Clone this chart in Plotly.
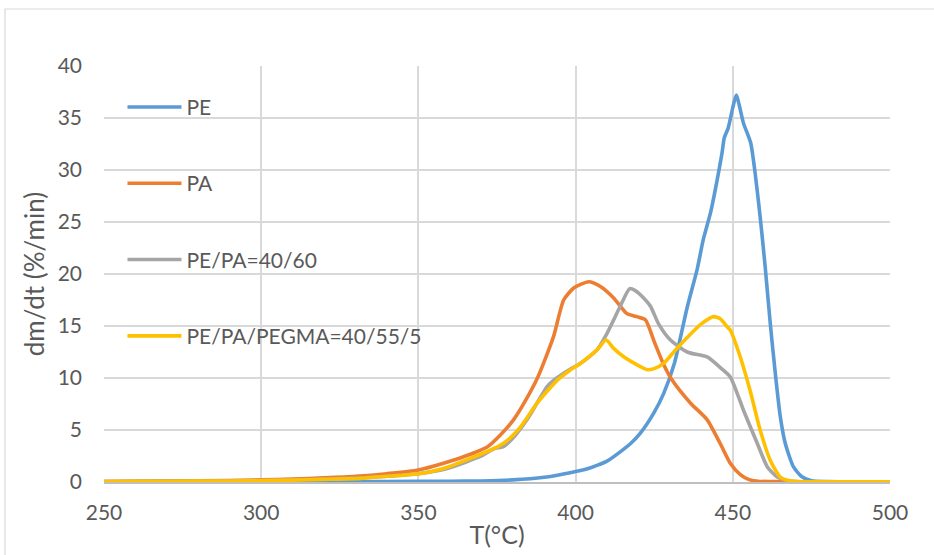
import plotly.graph_objects as go

# ---- data ----
pe_T = [250, 280, 310, 340, 360, 370, 380, 390, 395, 400, 405, 410, 414.2, 417.5, 420.6, 424.8, 428,
        431.5, 435.5, 438.7, 440.6, 443, 445, 446.5, 447.3, 448.5, 450, 451.1, 453.4, 455.7, 457.1,
        458.7, 460.3, 461.9, 463.5, 465.1, 466.7, 469.3, 472, 475, 480, 500]
pe_v = [0.02, 0.03, 0.04, 0.05, 0.07, 0.1, 0.2, 0.45, 0.7, 1.0, 1.4, 2.0, 2.9, 3.7, 4.7, 6.6, 8.5,
        11.5, 16.8, 20.5, 23.3, 26.0, 29.0, 31.5, 33.1, 34.0, 36.0, 37.2, 34.5, 32.6, 29.7,
        25.5, 20.7, 15.3, 10.5, 6.3, 3.7, 1.45, 0.5, 0.12, 0.04, 0.02]

pa_T = [250, 270, 290, 300, 310, 320, 330, 340, 350, 358, 365, 372, 376, 380.3, 384, 388, 393,
        396.2, 399.4, 404.2, 407.9, 412.1, 416.3, 419.5, 422.2, 425, 428, 430.7, 436.5, 441.8,
        446, 449.2, 452.4, 455, 458, 465, 500]
pa_v = [0.05, 0.08, 0.15, 0.2, 0.28, 0.4, 0.55, 0.8, 1.15, 1.8, 2.5, 3.4, 4.5, 6.0, 7.8, 10.1, 14.0,
        17.5, 18.65, 19.26, 18.8, 17.7, 16.2, 15.9, 15.6, 13.5, 11.3, 9.8, 7.6, 6.0,
        3.7, 1.8, 0.7, 0.25, 0.08, 0.03, 0.02]

blend_T = [250, 270, 290, 300, 310, 320, 330, 340, 350, 358, 365, 370, 374, 377, 380, 385, 391,
           394, 398, 401.5, 406.8, 410, 414.2, 417.2, 419, 420.6, 423.8, 426.4, 430, 435.5, 442,
           446, 449.2, 453.4, 457.8, 461, 464, 467, 470, 480, 500]
blend_v = [0.05, 0.08, 0.12, 0.15, 0.2, 0.28, 0.38, 0.55, 0.8, 1.2, 1.9, 2.5, 3.2, 3.4, 4.2, 6.2, 9.2,
           10.0, 10.8, 11.4, 12.7, 14.3, 16.9, 18.6, 18.4, 18.0, 16.9, 15.2, 13.7, 12.5, 12.0,
           11.0, 10.1, 6.9, 3.7, 1.45, 0.5, 0.15, 0.05, 0.02, 0.02]

comp_T = [250, 270, 290, 300, 310, 320, 331.6, 340, 350.2, 358, 367.6, 374, 378.3, 382.5, 387.8,
          394.2, 398, 401.5, 406.8, 409.7, 412.1, 415.3, 420.6, 422.7, 425, 428, 431.5, 435.5,
          440, 443.8, 446, 448, 449.2, 452.4, 455.5, 458.7, 461.9, 465, 468, 472, 500]
comp_v = [0.05, 0.07, 0.1, 0.13, 0.18, 0.25, 0.35, 0.55, 0.8, 1.3, 2.4, 3.2, 4.0, 5.3, 7.6,
          9.8, 10.7, 11.4, 12.7, 13.65, 12.85, 12.05, 11.1, 10.8, 10.9, 11.4, 12.6, 13.9,
          15.2, 15.9, 15.7, 15.0, 14.6, 12.0, 8.8, 5.0, 2.1, 0.5, 0.12, 0.03, 0.02]

names = ["PE", "PA", "PE/PA=40/60", "PE/PA/PEGMA=40/55/5"]
colors = ["#5B9BD5", "#ED7D31", "#A5A5A5", "#FFC000"]
series = [(pe_T, pe_v), (pa_T, pa_v), (blend_T, blend_v), (comp_T, comp_v)]

x_ticks = [250, 300, 350, 400, 450, 500]
y_ticks = [0, 5, 10, 15, 20, 25, 30, 35, 40]

FONT = "Lato"
TXT = "#595959"

fig = go.Figure()
for i, ((t, v), n, c) in enumerate(zip(series, names, colors)):
    fig.add_trace(go.Scatter(
        x=t, y=v, name=n, mode="lines",
        line=dict(color=c, width=3.6, shape="spline", smoothing=0.6),
        legendgroup=f"g{i}",
    ))

L, R, T, B = 104, 44, 66, 73
W, H = 934, 555
pw, ph = W - L - R, H - T - B

fig.update_layout(
    width=W, height=H,
    margin=dict(l=L, r=R, t=T, b=B, autoexpand=False),
    paper_bgcolor="white", plot_bgcolor="white",
    font=dict(family=FONT, size=21, color=TXT),
    showlegend=True,
    legend=dict(
        x=0.0235, y=0.95, xanchor="left", yanchor="top",
        bgcolor="rgba(0,0,0,0)", tracegroupgap=46,
        itemwidth=54, font=dict(family=FONT, size=21, color=TXT),
    ),
    xaxis=dict(
        range=[250, 500], tickvals=x_ticks, ticktext=[str(v) for v in x_ticks],
        showgrid=True, gridcolor="#D9D9D9", gridwidth=1.5,
        showline=True, linecolor="#BFBFBF", linewidth=1.5,
        zeroline=False, ticks="", ticklabelstandoff=11, automargin=False,
        title=dict(text="T(°C)", standoff=4, font=dict(size=25)),
    ),
    yaxis=dict(
        range=[0, 40], tickvals=y_ticks,
        showgrid=True, gridcolor="#D9D9D9", gridwidth=1.5,
        showline=False, zeroline=False, ticks="", ticklabelstandoff=21, automargin=False,
        title=dict(text="dm/dt (%/min)", standoff=5, font=dict(size=26)),
    ),
    shapes=[dict(
        type="rect", xref="paper", yref="paper", layer="below",
        x0=(5 - L) / pw, x1=(W + 10 - L) / pw,
        y0=(H - B - (H + 10)) / ph, y1=(H - B - 9) / ph,
        line=dict(color="#D9D9D9", width=1.2), fillcolor="rgba(0,0,0,0)",
    )],
)

fig.write_html("out.html", config={"displayModeBar": False},
               post_script="document.body.style.margin='0';")
